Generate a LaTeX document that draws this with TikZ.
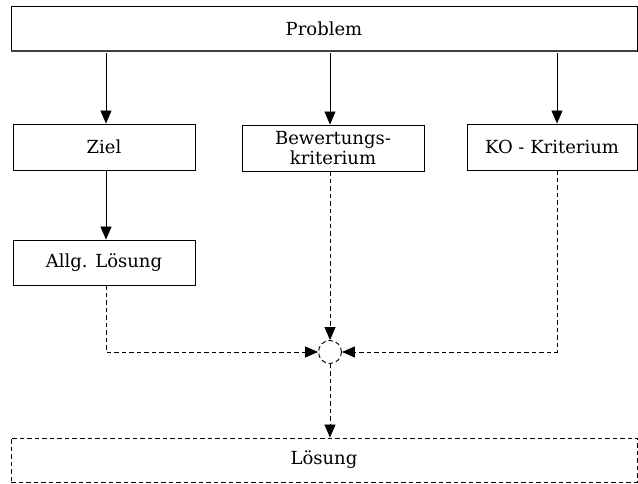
\documentclass[tikz,border=0pt]{standalone}
\usepackage{fontspec}
\setmainfont{DejaVu Serif}
\usetikzlibrary{arrows.meta}
\begin{document}
\begin{tikzpicture}[x=1pt,y=1pt,
  box/.style={draw, line width=0.9pt, inner sep=0pt, align=center, font=\fontsize{18}{19.5}\selectfont},
  solidarrow/.style={line width=0.9pt, -{Triangle[length=13pt,width=11pt]}},
  dasharrow/.style={line width=0.9pt, dash pattern=on 4.5pt off 3pt, -{Triangle[length=13pt,width=11pt]}},
  dashline/.style={line width=0.9pt, dash pattern=on 4.5pt off 3pt}]
\useasboundingbox (0,0) rectangle (638,484);
% top problem box
\node[box, minimum width=626pt, minimum height=45pt] (problem) at (324,455.5) {Problem};
\draw[line width=1.6pt, black!75] (11,433) -- (637,433);
% criteria row
\node[box, minimum width=182pt, minimum height=46pt] (ziel) at (104,337) {Ziel};
\node[box, minimum width=182pt, minimum height=46pt] (bew) at (333,336) {Bewertungs-\\kriterium};
\node[box, minimum width=170pt, minimum height=46pt] (ko) at (552,337) {KO - Kriterium};
\node[box, minimum width=182pt, minimum height=45pt] (allg) at (104,221.5) {Allg. Lösung};
% combination point
\node[draw, circle, dashline, minimum size=23pt, inner sep=0pt] (join) at (330,132) {};
% result
\node[box, dashline, minimum width=626pt, minimum height=44pt] (loesung) at (324,24) {Lösung};
% coordinates on the problem box
\coordinate (p1) at (106,431);
\coordinate (p2) at (330,431);
\coordinate (p3) at (557,431);
\draw[solidarrow] (p1) -- (ziel.north -| p1);
\draw[solidarrow] (p2) -- (bew.north -| p2);
\draw[solidarrow] (p3) -- (ko.north -| p3);
\draw[solidarrow] (ziel.south -| p1) -- (allg.north -| p1);
\draw[dasharrow] (allg.south -| p1) |- (join.west);
\draw[dasharrow] (bew.south -| p2) -- (join.north);
\draw[dasharrow] (ko.south -| p3) |- (join.east);
\draw[dasharrow] (join.south) -- (loesung.north -| join);
\end{tikzpicture}
\end{document}
